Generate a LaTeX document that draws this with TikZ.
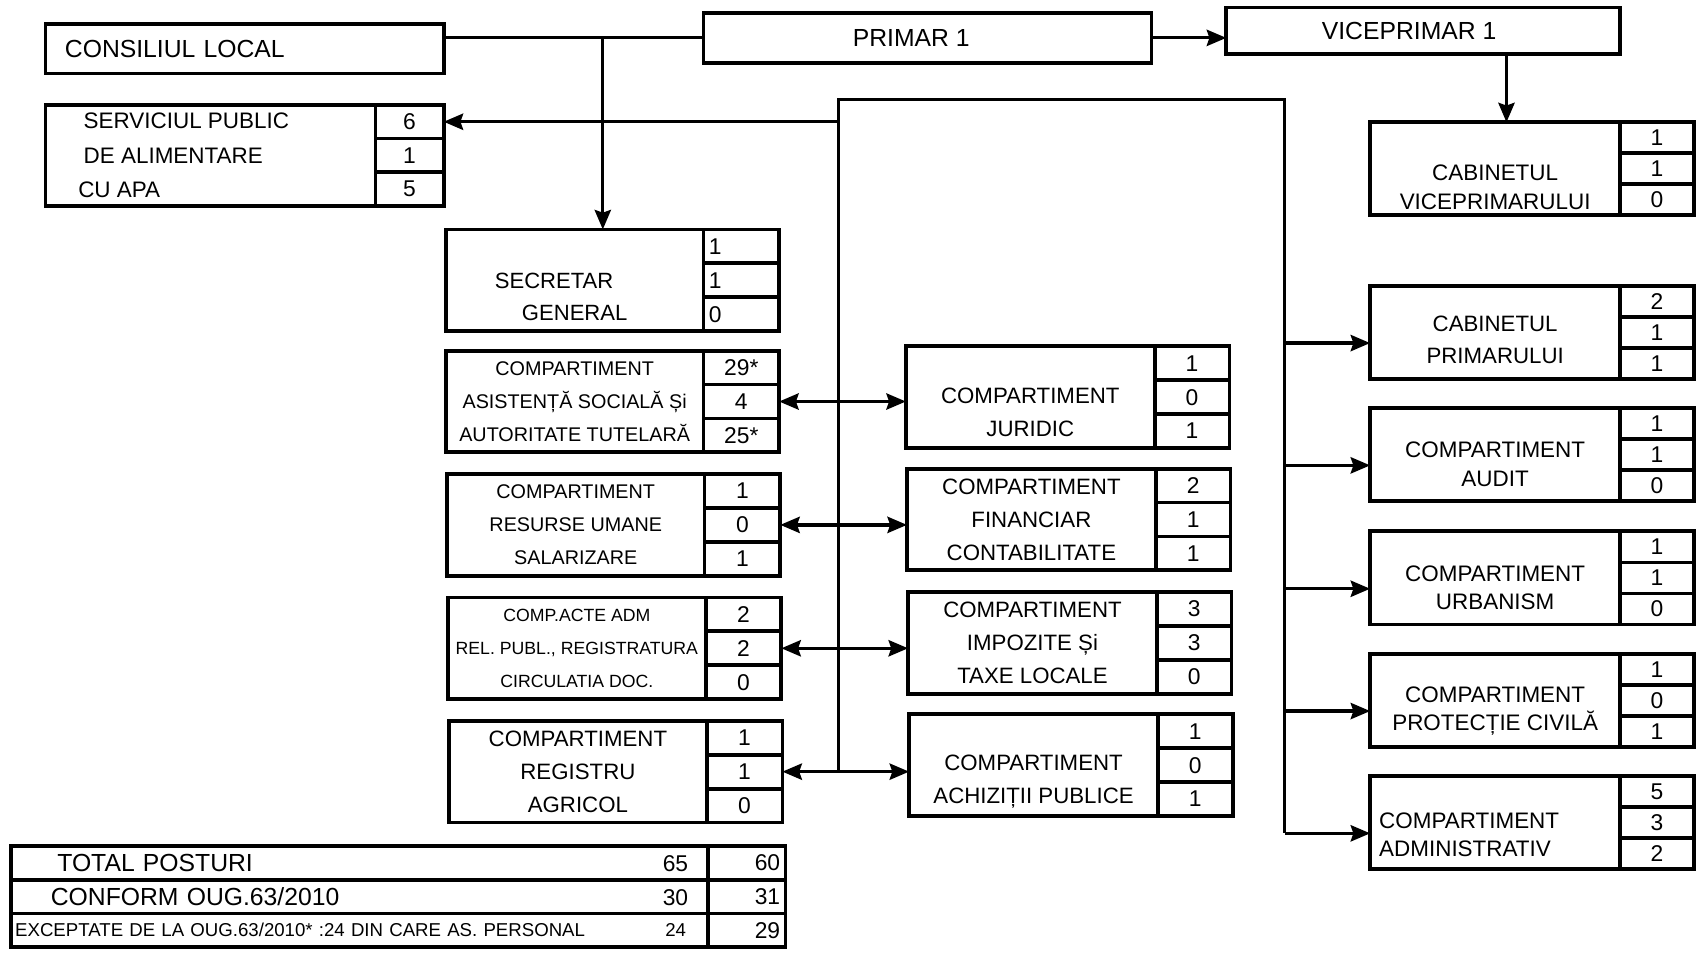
\documentclass[tikz,border=0pt]{standalone}
\usepackage{fontspec}
\setmainfont{Liberation Sans}
\usepackage{tikz}
\usetikzlibrary{arrows.meta}
\newcommand{\fhead}{\fontsize{13}{16}\selectfont}
\newcommand{\fserv}{\fontsize{11.8}{17.9}\selectfont}
\newcommand{\fsec}{\fontsize{11.6}{17}\selectfont}
\newcommand{\fleft}{\fontsize{10.4}{17.5}\selectfont}
\newcommand{\fsmall}{\fontsize{9.3}{17.5}\selectfont}
\newcommand{\fmid}{\fontsize{11.7}{17.3}\selectfont}
\newcommand{\fright}{\fontsize{11.8}{14.8}\selectfont}
\newcommand{\fnum}{\fontsize{12}{14}\selectfont}
\newcommand{\fnote}{\fontsize{9.8}{12}\selectfont}
\newcommand{\numl}[1]{\makebox[1.2cm][l]{#1}}
\tikzstyle{orgframe} = [draw=black, line width=2pt, anchor=north west, inner sep=0pt, outer sep=0pt]
\tikzstyle{headbox} = [orgframe, minimum height=0.92cm, font=\fhead]
\tikzstyle{sbox} = [orgframe, minimum width=6.1cm, minimum height=1.86cm]
\tikzstyle{sboxnum} = [orgframe, minimum width=1.26cm, minimum height=0.62cm, font=\fnum]
\tikzstyle{lbox} = [orgframe, minimum width=4.76cm, minimum height=1.88cm]
\tikzstyle{lboxnum} = [orgframe, minimum width=1.4cm, minimum height=0.6267cm, font=\fnum]
\tikzstyle{mbox} = [orgframe, minimum width=4.6cm, minimum height=1.88cm]
\tikzstyle{mboxnum} = [orgframe, minimum width=1.38cm, minimum height=0.6267cm, font=\fnum]
\tikzstyle{rbox} = [orgframe, minimum width=4.62cm, minimum height=1.72cm]
\tikzstyle{rboxnum} = [orgframe, minimum width=1.36cm, minimum height=0.5733cm, font=\fnum]
\tikzstyle{txt} = [align=center, inner sep=0pt]
\tikzstyle{sumcell} = [orgframe, minimum height=0.62cm]
\tikzstyle{link} = [line width=1.7pt]
\tikzstyle{arrow} = [line width=1.7pt,-{Stealth[length=0.36cm, width=0.3cm, inset=0.05cm]}]
\tikzstyle{dblarrow} = [line width=1.7pt,{Stealth[length=0.36cm, width=0.3cm, inset=0.05cm]}-{Stealth[length=0.36cm, width=0.3cm, inset=0.05cm]}]
% frame, label and the three number cells of one unit
\newcommand{\orgunit}[8]{%
  \node[#1] (#2) at #3 {};
  \node[txt, #4] (#2-t) at (#2.center) {#5};
  \node[#1num] (#2-1) at (#2.north east) {#6};
  \node[#1num] (#2-2) at (#2-1.south west) {#7};
  \node[#1num] (#2-3) at (#2-2.south west) {#8};
}

\begin{document}
\begin{tikzpicture}[x=0.02cm, y=-0.02cm]
        \useasboundingbox (0,0) rectangle (1568,882);
        % top row
        \node[headbox, text width=6.64cm, inner xsep=0.36cm, align=left] (cl) at (42,22) {\raisebox{-0.06cm}{CONSILIUL LOCAL}};
        \node[headbox, minimum width=8.28cm] (primar) at (650,12) {\raisebox{-0.05cm}{PRIMAR 1}\hspace*{0.6cm}};
        \node[headbox, minimum width=7.28cm, minimum height=0.86cm] (vice) at (1133,7) {\raisebox{-0.06cm}{VICEPRIMAR 1}\hspace*{0.52cm}};
        \orgunit{sbox}{serv}{(42,97)}{align=left, anchor=west, xshift=-2.35cm, font=\fserv}{SERVICIUL PUBLIC\\DE ALIMENTARE\\\hspace*{-0.1cm}CU APA}{6}{1}{5}
        % left column
        \orgunit{lbox}{sg}{(412,212)}{yshift=-0.31cm, font=\fsec}{SECRETAR\hspace*{0.76cm}\\GENERAL}{\numl{1}}{\numl{1}}{\numl{0}}
        \orgunit{lbox}{asist}{(412,324)}{font=\fleft}{COMPARTIMENT\\ASISTENȚĂ SOCIALĂ Și\\AUTORITATE TUTELARĂ}{29*}{4}{25*}
        \orgunit{lbox}{res}{(413,438)}{font=\fleft}{COMPARTIMENT\\RESURSE UMANE\\SALARIZARE}{1}{0}{1}
        \orgunit{lbox}{acte}{(414,552)}{font=\fsmall}{COMP.ACTE ADM\\REL. PUBL., REGISTRATURA\\CIRCULATIA DOC.}{2}{2}{0}
        \orgunit{lbox}{reg}{(415,666)}{font=\fmid}{COMPARTIMENT\\REGISTRU\\AGRICOL}{1}{1}{0}
        % middle column
        \orgunit{mbox}{jur}{(837,320)}{yshift=-0.28cm, font=\fmid}{COMPARTIMENT\\JURIDIC}{1}{0}{1}
        \orgunit{mbox}{fin}{(838,433)}{font=\fmid}{COMPARTIMENT\\FINANCIAR\\CONTABILITATE}{2}{1}{1}
        \orgunit{mbox}{imp}{(839,547)}{font=\fmid}{COMPARTIMENT\\IMPOZITE Și\\TAXE LOCALE}{3}{3}{0}
        \orgunit{mbox}{ach}{(840,660)}{yshift=-0.3cm, font=\fmid}{COMPARTIMENT\\ACHIZIȚII PUBLICE}{1}{0}{1}
        % right column
        \orgunit{rbox}{cabv}{(1266,113)}{yshift=-0.34cm, font=\fright}{CABINETUL\\VICEPRIMARULUI}{1}{1}{0}
        \orgunit{rbox}{cpr}{(1266,264)}{yshift=-0.14cm, font=\fmid}{CABINETUL\\PRIMARULUI}{2}{1}{1}
        \orgunit{rbox}{aud}{(1266,377)}{yshift=-0.18cm, font=\fright}{COMPARTIMENT\\AUDIT}{1}{1}{0}
        \orgunit{rbox}{urb}{(1266,491)}{yshift=-0.18cm, font=\fright}{COMPARTIMENT\\URBANISM}{1}{1}{0}
        \orgunit{rbox}{prot}{(1266,604)}{yshift=-0.2cm, font=\fright}{COMPARTIMENT\\PROTECȚIE CIVILĂ}{1}{0}{1}
        \orgunit{rbox}{adm}{(1266,717)}{align=left, anchor=west, xshift=-2.15cm, yshift=-0.22cm, font=\fright}{COMPARTIMENT\\ADMINISTRATIV}{5}{3}{2}
        % totals
        \node[sumcell, text width=12.88cm, font=\fhead] (tot1) at (10,782) {\hspace*{0.86cm}TOTAL POSTURI\hfill{\fnum 65}\hspace*{0.36cm}\null};
        \node[sumcell, text width=12.88cm, font=\fhead] (tot2) at (tot1.south west) {\hspace*{0.74cm}CONFORM OUG.63/2010\hfill{\fnum 30}\hspace*{0.36cm}\null};
        \node[sumcell, text width=12.88cm, font=\fnote] (tot3) at (tot2.south west) {\hspace*{0.08cm}EXCEPTATE DE LA OUG.63/2010* :24 DIN CARE AS. PERSONAL\hfill 24\hspace*{0.4cm}\null};
        \node[sumcell, text width=1.24cm, inner xsep=0.1cm, align=right, font=\fnum] (tot1b) at (tot1.north east) {60};
        \node[sumcell, text width=1.24cm, inner xsep=0.1cm, align=right, font=\fnum] (tot2b) at (tot2.north east) {31};
        \node[sumcell, text width=1.24cm, inner xsep=0.1cm, align=right, font=\fnum] (tot3b) at (tot3.north east) {29};
        % connectors
        \draw[link] (primar.west -| cl.east) -- (primar.west);
        \coordinate (sgin) at ([xshift=0.52cm]sg.north);
        \draw[arrow] (sgin |- primar.west) -- (sgin);
        \draw[arrow] (primar.east) -- (primar.east -| vice.west);
        \coordinate (vout) at ([xshift=1.54cm]vice.south);
        \draw[arrow] (vout) -- (vout |- cabv.north);
        \coordinate (busl) at (775,92);
        \coordinate (busr) at (1187,92);
        \draw[arrow] (serv-1.east -| busl) -- (serv-1.east);
        \foreach \n in {cpr,aud,urb,prot,adm} {
            \coordinate (\n-in) at ([yshift=-0.2cm]\n.west);
            \draw[arrow] (\n-in -| busr) -- (\n-in);
        }
        \draw[link] (reg-2.east -| busl) -- (busl) -- (busr) -- (adm-in -| busr);
        \foreach \a/\b in {asist/jur, res/fin, acte/imp, reg/ach}
            \draw[dblarrow] (\a-2.east) -- (\a-2.east -| \b.west);
\end{tikzpicture}
\end{document}
